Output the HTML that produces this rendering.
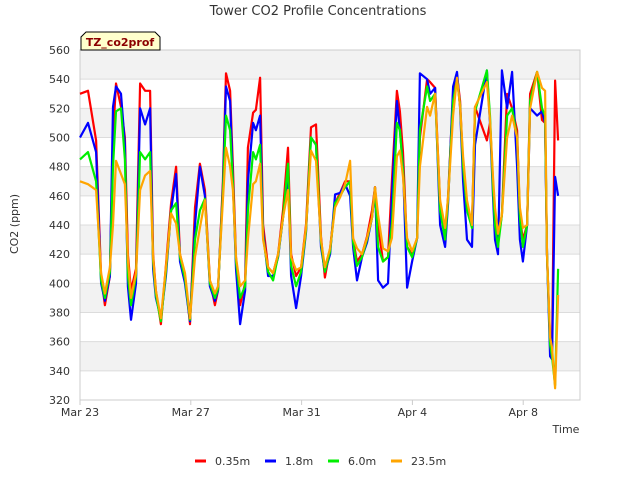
<!DOCTYPE html>
<html><head><meta charset="utf-8"><style>
body{margin:0;background:#fff;}
svg text{font-family:"DejaVu Sans","Liberation Sans",sans-serif;}
</style></head><body>
<svg id="chart" width="640" height="480" viewBox="0 0 640 480" xmlns="http://www.w3.org/2000/svg">
<rect width="640" height="480" fill="#fff"/>
<text x="318" y="15" text-anchor="middle" font-size="13" fill="#333">Tower CO2 Profile Concentrations</text>
<g id="bands"></g>
<g id="grid"></g>
<rect x="80" y="50" width="500" height="350" fill="none" stroke="#ccc"/>
<g id="yticks"></g>
<g id="xticks"></g>
<g id="series"></g>
<text transform="translate(18,224) rotate(-90)" text-anchor="middle" font-size="11" fill="#333">CO2 (ppm)</text>
<text x="566" y="433" text-anchor="middle" font-size="11" fill="#333">Time</text>
<g>
<path d="M81,50 L81,37 L86,32 L155,32 L160,37 L160,50 Z" fill="#ffffcc" stroke="#000" stroke-width="1"/>
<text x="120" y="46" text-anchor="middle" font-size="11" font-weight="bold" fill="#8b0000">TZ_co2prof</text>
</g>
<g id="legend"></g>
</svg>
<script>
const times=[0,0.29,0.58,0.76,0.9,1.08,1.19,1.3,1.48,1.62,1.73,1.84,2.02,2.17,2.35,2.53,2.64,2.74,2.92,3.1,3.29,3.47,3.61,3.79,3.97,4.15,4.33,4.51,4.69,4.87,4.98,5.16,5.27,5.42,5.52,5.63,5.78,5.96,6.06,6.25,6.35,6.5,6.61,6.79,6.97,7.15,7.33,7.51,7.62,7.8,7.98,8.16,8.34,8.52,8.7,8.84,9.03,9.21,9.39,9.57,9.75,9.86,10.0,10.18,10.36,10.54,10.65,10.76,10.94,11.12,11.26,11.44,11.55,11.66,11.81,11.99,12.17,12.27,12.53,12.64,12.82,13.0,13.18,13.29,13.47,13.61,13.72,13.83,13.97,14.15,14.26,14.69,14.8,14.91,14.98,15.09,15.23,15.42,15.6,15.78,15.88,15.99,16.14,16.25,16.5,16.68,16.79,16.86,16.97,17.04,17.15,17.26];
const red=[530,532,498,405,385,405,500,537,521,500,420,395,410,537,532,532,420,395,372,412,455,480,420,405,372,452,482,464,402,385,395,470,544,532,480,418,385,400,493,517,519,541,440,411,407,420,450,493,420,405,411,440,507,509,432,404,424,455,462,470,470,430,415,420,432,450,466,440,415,418,470,532,518,490,425,420,431,500,540,538,534,455,430,460,530,543,525,480,455,440,521,498,510,470,445,430,447,530,520,505,445,430,440,530,545,512,510,420,360,352,539,498];
const blue=[500,510,490,400,388,405,521,535,530,495,398,375,400,520,509,520,410,390,376,405,450,475,415,400,374,440,480,460,398,388,395,465,535,525,470,410,372,395,470,510,505,515,435,405,405,418,445,475,405,383,405,435,500,495,425,408,420,461,462,468,460,425,402,418,428,445,466,402,397,400,460,525,505,480,397,415,431,544,540,530,534,440,425,455,535,545,520,470,430,425,495,546,510,460,430,420,546,520,545,480,430,415,440,520,515,518,510,420,350,348,473,460];
const green=[485,490,470,402,390,408,480,518,520,485,405,385,405,490,485,490,415,392,374,408,450,455,418,403,375,430,450,458,400,390,396,462,515,505,468,415,390,398,450,490,485,495,432,408,402,419,445,482,412,398,408,436,500,495,428,408,422,455,460,466,470,428,412,418,430,445,465,425,415,418,440,510,505,478,425,418,431,505,535,525,530,450,430,458,525,540,522,480,450,438,518,546,515,465,440,425,447,515,520,500,445,425,440,525,545,520,515,420,358,350,330,410];
const orange=[470,468,464,407,393,411,440,484,475,468,416,390,407,464,474,477,418,395,376,411,448,441,420,407,376,418,438,457,402,393,398,457,493,480,464,418,398,402,430,468,470,482,430,411,407,420,445,464,418,409,411,438,491,484,430,411,424,452,459,468,484,431,424,420,431,445,466,447,424,422,431,487,491,473,431,422,431,480,521,515,530,457,438,459,515,541,521,487,457,440,521,538,512,473,452,434,447,500,515,500,452,438,440,520,545,534,532,420,363,356,328,392];
const yTicks=[320,340,360,380,400,420,440,460,480,500,520,540,560];
const xTickLabels=["Mar 23","Mar 27","Mar 31","Apr 4","Apr 8"];
const xTickDays=[0,4,8,12,16];
const seriesNames=["0.35m","1.8m","6.0m","23.5m"];
const seriesColors=["#ff0000","#0000ff","#00ee00","#ffa500"];

const NS="http://www.w3.org/2000/svg";
const X0=80,X1=580,Y0=400,Y1=50;
const dayMin=0,dayMax=18.05,vMin=320,vMax=560;
function xs(d){return X0+(d-dayMin)/(dayMax-dayMin)*(X1-X0);}
function ys(v){return Y0-(v-vMin)/(vMax-vMin)*(Y0-Y1);}
function mk(tag,attrs,parent){const e=document.createElementNS(NS,tag);for(const k in attrs)e.setAttribute(k,attrs[k]);parent.appendChild(e);return e;}

const bands=document.getElementById('bands');
for(let i=0;i<yTicks.length-1;i++){
  if((yTicks.length-2-i)%2===0){
    const r=mk('rect',{x:X0,y:ys(yTicks[i+1]),width:X1-X0,height:ys(yTicks[i])-ys(yTicks[i+1]),fill:'#f2f2f2'},bands);
    
    
  }
}
const grid=document.getElementById('grid');
const yt=document.getElementById('yticks');
yTicks.forEach(v=>{
  const l=mk('line',{x1:X0,x2:X1,y1:ys(v),y2:ys(v),stroke:'#dcdcdc','stroke-width':1},grid);
  
  
  const t=mk('text',{x:X0-10,y:ys(v)+4,'text-anchor':'end','font-size':11,fill:'#333'},yt);
  t.textContent=v;
  
  
});
const xt=document.getElementById('xticks');
xTickDays.forEach((d,i)=>{
  const l=mk('line',{x1:xs(d),x2:xs(d),y1:Y0,y2:Y0+5,stroke:'#ccc'},xt);
  
  
  const t=mk('text',{x:xs(d),y:Y0+16,'text-anchor':'middle','font-size':11,fill:'#333'},xt);
  t.textContent=xTickLabels[i];
  
  
});
const sg=document.getElementById('series');
[red,blue,green,orange].forEach((arr,si)=>{
  const pts=arr.map((v,i)=>xs(times[i]).toFixed(1)+','+ys(v).toFixed(1)).join(' ');
  const p=mk('polyline',{points:pts,fill:'none',stroke:seriesColors[si],'stroke-width':2.2,'stroke-linejoin':'round'},sg);
  
  
});
const lg=document.getElementById('legend');
const legX=[195,265,328,391];
seriesNames.forEach((n,i)=>{
  const g=mk('g',{},lg);
  
  
  mk('line',{x1:legX[i],x2:legX[i]+11,y1:461,y2:461,stroke:seriesColors[i],'stroke-width':3},g);
  const t=mk('text',{x:legX[i]+20,y:465,'font-size':11,fill:'#333'},g);
  t.textContent=n;
});
</script>
</body></html>
